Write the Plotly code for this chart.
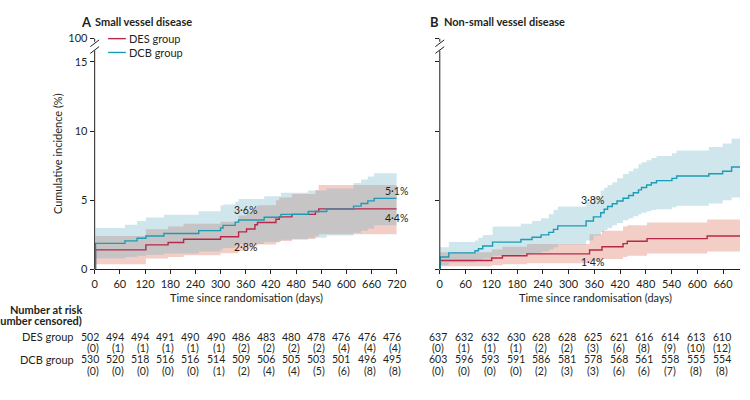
import plotly.graph_objects as go

# ---------------- data ----------------
tick_days = [0, 60, 120, 180, 240, 300, 360, 420, 480, 540, 600, 660, 720]

# Panel A: small vessel disease (step times in days, cumulative incidence %)
A_des_t   = [0, 2, 122, 175, 212, 300, 343, 362, 382, 388, 432, 440, 470, 526, 534, 720]
A_des_est = [0, 1.42, 1.78, 1.95, 2.19, 2.37, 2.72, 2.93, 3.23, 3.40, 3.63, 3.80, 3.98, 4.19, 4.38, 4.38]
A_des_lo  = [0, 0.37, 0.79, 0.90, 1.02, 1.18, 1.36, 1.50, 1.70, 1.80, 1.95, 2.05, 2.20, 2.40, 2.55, 2.60]
A_des_hi  = [0, 2.42, 2.90, 3.10, 3.30, 3.45, 3.90, 4.15, 4.50, 4.65, 5.00, 5.20, 5.45, 5.75, 6.10, 6.14]

A_dcb_t   = [0, 2, 72, 101, 122, 165, 248, 300, 306, 335, 343, 404, 444, 509, 553, 617, 635, 651, 666, 720]
A_dcb_est = [0, 1.89, 2.07, 2.26, 2.42, 2.60, 2.81, 3.00, 3.19, 3.42, 3.58, 3.77, 3.98, 4.19, 4.35, 4.58, 4.77, 4.96, 5.14, 5.14]
A_dcb_lo  = [0, 0.79, 0.90, 1.00, 1.07, 1.15, 1.30, 1.45, 1.55, 1.70, 1.85, 2.00, 2.15, 2.30, 2.45, 2.65, 2.80, 2.95, 3.20, 3.20]
A_dcb_hi  = [0, 3.00, 3.23, 3.50, 3.75, 3.96, 4.20, 4.63, 4.70, 4.90, 5.10, 5.30, 5.55, 5.70, 5.85, 6.25, 6.50, 6.72, 6.96, 6.96]

# Panel B: non-small vessel disease
B_des_t   = [0, 1, 121, 146, 203, 349, 378, 427, 437, 483, 623, 720]
B_des_est = [0, 0.65, 0.83, 0.99, 1.13, 1.41, 1.64, 1.87, 2.04, 2.23, 2.42, 2.42]
B_des_lo  = [0, 0.23, 0.30, 0.38, 0.45, 0.60, 0.75, 0.90, 1.00, 1.15, 1.30, 1.30]
B_des_hi  = [0, 1.25, 1.45, 1.65, 1.85, 2.55, 2.80, 3.10, 3.20, 3.40, 3.62, 3.62]

B_dcb_t   = [0, 1, 21, 82, 90, 100, 123, 189, 215, 236, 254, 265, 275, 341, 358, 375, 383, 391,
             402, 413, 427, 440, 451, 463, 470, 482, 493, 505, 541, 552, 627, 659, 680, 720]
B_dcb_est = [0, 0.90, 1.20, 1.35, 1.50, 1.70, 1.98, 2.17, 2.33, 2.50, 2.68, 2.90, 3.15, 3.50, 3.80, 4.10, 4.35, 4.55,
             4.75, 4.95, 5.15, 5.35, 5.55, 5.75, 5.92, 6.10, 6.27, 6.42, 6.58, 6.75, 6.92, 7.10, 7.40, 7.40]
B_dcb_lo  = [0, 0.30, 0.50, 0.60, 0.70, 0.80, 1.00, 1.10, 1.20, 1.30, 1.45, 1.60, 1.80, 2.10, 2.45, 2.70, 2.85, 3.00,
             3.20, 3.35, 3.55, 3.70, 3.85, 4.00, 4.10, 4.20, 4.30, 4.35, 4.50, 4.60, 4.77, 5.00, 5.20, 5.20]
B_dcb_hi  = [0, 1.60, 1.98, 2.10, 2.30, 2.50, 3.10, 3.30, 3.50, 3.70, 4.00, 4.30, 4.55, 4.90, 5.30, 5.70, 5.90, 6.10,
             6.30, 6.60, 6.90, 7.10, 7.30, 7.60, 7.75, 7.90, 8.05, 8.20, 8.40, 8.60, 8.85, 9.10, 9.45, 9.45]

# Number at risk (number censored)
A_des_risk = [502, 494, 494, 491, 490, 490, 486, 483, 480, 478, 476, 476, 476]
A_des_cens = [0, 1, 1, 1, 1, 1, 2, 2, 2, 2, 4, 4, 4]
A_dcb_risk = [530, 520, 518, 516, 516, 514, 509, 506, 505, 503, 501, 496, 495]
A_dcb_cens = [0, 0, 0, 0, 0, 1, 2, 4, 4, 5, 6, 8, 8]
B_days     = [0, 60, 120, 180, 240, 300, 360, 420, 480, 540, 600, 660]
B_des_risk = [637, 632, 632, 630, 628, 628, 625, 621, 616, 614, 613, 610]
B_des_cens = [0, 1, 1, 1, 2, 2, 3, 6, 8, 9, 10, 12]
B_dcb_risk = [603, 596, 593, 591, 586, 581, 578, 568, 561, 558, 555, 554]
B_dcb_cens = [0, 0, 0, 0, 2, 3, 3, 6, 6, 7, 8, 8]

# curve end labels: (day, y, text)
A_labels = [(360, 4.33, "3·6%"), (360, 1.65, "2·8%"), (720, 5.68, "5·1%"), (720, 3.70, "4·4%")]
B_labels = [(356, 5.0, "3·8%"), (356, 0.55, "1·4%")]

# ---------------- style ----------------
W, H = 750, 400
FONT = "Lato"
TXT = "#231f20"
DES_LINE = "#b8284a"
DCB_LINE = "#1b9db5"
DES_FILL = "rgba(215,106,86,0.33)"
DCB_FILL = "rgba(95,172,192,0.30)"
YTOP = 16.68  # position used for the "100" tick above the axis break


def px(x):
    return x / W


def py(y):
    return 1 - y / H


fig = go.Figure()


def band(t, lo, hi, color, xa, ya):
    fig.add_trace(go.Scatter(x=t, y=lo, mode="lines", line=dict(width=0, shape="hv"),
                             xaxis=xa, yaxis=ya, showlegend=False, hoverinfo="skip"))
    fig.add_trace(go.Scatter(x=t, y=hi, mode="lines", line=dict(width=0, shape="hv"),
                             fill="tonexty", fillcolor=color,
                             xaxis=xa, yaxis=ya, showlegend=False, hoverinfo="skip"))


def curve(t, est, color, xa, ya):
    fig.add_trace(go.Scatter(x=t, y=est, mode="lines", line=dict(width=1.4, shape="hv", color=color),
                             xaxis=xa, yaxis=ya, showlegend=False, hoverinfo="skip"))


band(A_des_t, A_des_lo, A_des_hi, DES_FILL, "x", "y")
band(A_dcb_t, A_dcb_lo, A_dcb_hi, DCB_FILL, "x", "y")
band(B_des_t, B_des_lo, B_des_hi, DES_FILL, "x2", "y2")
band(B_dcb_t, B_dcb_lo, B_dcb_hi, DCB_FILL, "x2", "y2")
curve(A_des_t, A_des_est, DES_LINE, "x", "y")
curve(A_dcb_t, A_dcb_est, DCB_LINE, "x", "y")
curve(B_des_t, B_des_est, DES_LINE, "x2", "y2")
curve(B_dcb_t, B_dcb_est, DCB_LINE, "x2", "y2")

ydom = [py(271.3), py(32.7)]
common_x = dict(tickvals=tick_days, ticks="outside", ticklen=4, tickwidth=1, tickcolor=TXT,
                showline=True, linecolor=TXT, linewidth=1, showgrid=False, zeroline=False,
                tickfont=dict(size=11, color=TXT, family=FONT))
common_y = dict(range=[0, YTOP], tickvals=[0, 5, 10, 15, YTOP], ticktext=["0", "5", "10", "15", "100"],
                ticks="outside", ticklen=4, tickwidth=1, tickcolor=TXT, showline=False,
                showgrid=False, zeroline=False, domain=ydom,
                tickfont=dict(size=11, color=TXT, family=FONT))

AX0, AX1 = 93.3, 400.7
BX0 = 444.5
B_range_end = (W - BX0) / 0.4367

fig.update_layout(
    width=W, height=H, margin=dict(l=0, r=0, t=0, b=0),
    paper_bgcolor="white", plot_bgcolor="white",
    font=dict(family=FONT, color=TXT, size=11),
    xaxis=dict(domain=[px(AX0), px(AX1)], range=[0, 720], anchor="y", **common_x),
    yaxis=dict(anchor="x", **common_y),
    xaxis2=dict(domain=[px(BX0), 1.0], range=[0, B_range_end], anchor="y2", **common_x),
    yaxis2=dict(anchor="x2", showticklabels=False, **common_y),
)

shapes = []
# broken y-axis lines
for ax in (AX0, BX0):
    shapes.append(dict(type="line", xref="paper", yref="paper", x0=px(ax), x1=px(ax),
                       y0=py(271.3), y1=py(45), line=dict(color=TXT, width=1)))
    shapes.append(dict(type="line", xref="paper", yref="paper", x0=px(ax), x1=px(ax),
                       y0=py(36), y1=py(32.7), line=dict(color=TXT, width=1)))
    for dy in (0, 7):
        shapes.append(dict(type="line", xref="paper", yref="paper", x0=px(ax - 4.5), x1=px(ax + 4.5),
                           y0=py(41 + dy), y1=py(34 + dy), line=dict(color=TXT, width=1)))
# legend line samples
shapes.append(dict(type="line", xref="paper", yref="paper", x0=px(107), x1=px(125),
                   y0=py(32.7), y1=py(32.7), line=dict(color=DES_LINE, width=1.4)))
shapes.append(dict(type="line", xref="paper", yref="paper", x0=px(107), x1=px(125),
                   y0=py(47), y1=py(47), line=dict(color=DCB_LINE, width=1.4)))
fig.update_layout(shapes=shapes)

ann = []


def text(x, y, s, size=11, anchor="center", bold=False, xref="paper", yref="paper", xshift=0, angle=0):
    ann.append(dict(x=x, y=y, xref=xref, yref=yref, text=f"<b>{s}</b>" if bold else s,
                    showarrow=False, xanchor=anchor, yanchor="middle", xshift=xshift, textangle=angle,
                    font=dict(size=size, color=TXT, family=FONT)))


# panel titles
text(px(77), py(15), "A", size=13, anchor="left", bold=True)
text(px(92), py(15.5), "Small vessel disease", size=11, anchor="left", bold=True)
text(px(432), py(15), "B", size=13, anchor="left", bold=True)
text(px(447), py(15.5), "Non-small vessel disease", size=11, anchor="left", bold=True)
# legend text
text(px(126), py(32.7), "DES group", anchor="left")
text(px(126), py(47), "DCB group", anchor="left")
# axis titles
text(px(55), py(152), "Cumulative incidence (%)", angle=-90)
text(px(247.5), py(300.7), "Time since randomisation (days)")
text(px(602.5), py(300.7), "Time since randomisation (days)")
# curve labels
for d, v, s in A_labels:
    text(d, v, s, size=10.5, xref="x", yref="y")
for d, v, s in B_labels:
    text(d, v, s, size=10.5, xref="x2", yref="y2")
# number at risk table
text(px(82), py(312.7), "Number at risk", size=11, anchor="right", bold=True)
text(px(82), py(324.5), "(number censored)", size=11, anchor="right", bold=True)
text(px(74), py(341), "DES group", anchor="right")
text(px(74), py(364.3), "DCB group", anchor="right")
rows = [(341, A_des_risk, B_des_risk, False), (352.7, A_des_cens, B_des_cens, True),
        (364.3, A_dcb_risk, B_dcb_risk, False), (376, A_dcb_cens, B_dcb_cens, True)]
for yy, a_vals, b_vals, paren in rows:
    for d, v in zip(tick_days, a_vals):
        text(d, py(yy), f"({v})" if paren else str(v), size=10.5, xref="x",
             xshift=-2 if paren else -5)
    for d, v in zip(B_days, b_vals):
        text(d, py(yy), f"({v})" if paren else str(v), size=10.5, xref="x2", xshift=-1.5)

fig.update_layout(annotations=ann)
fig.write_html("out.html", config={"displayModeBar": False},
               post_script="document.body.style.margin='0';document.body.style.overflow='hidden';")
